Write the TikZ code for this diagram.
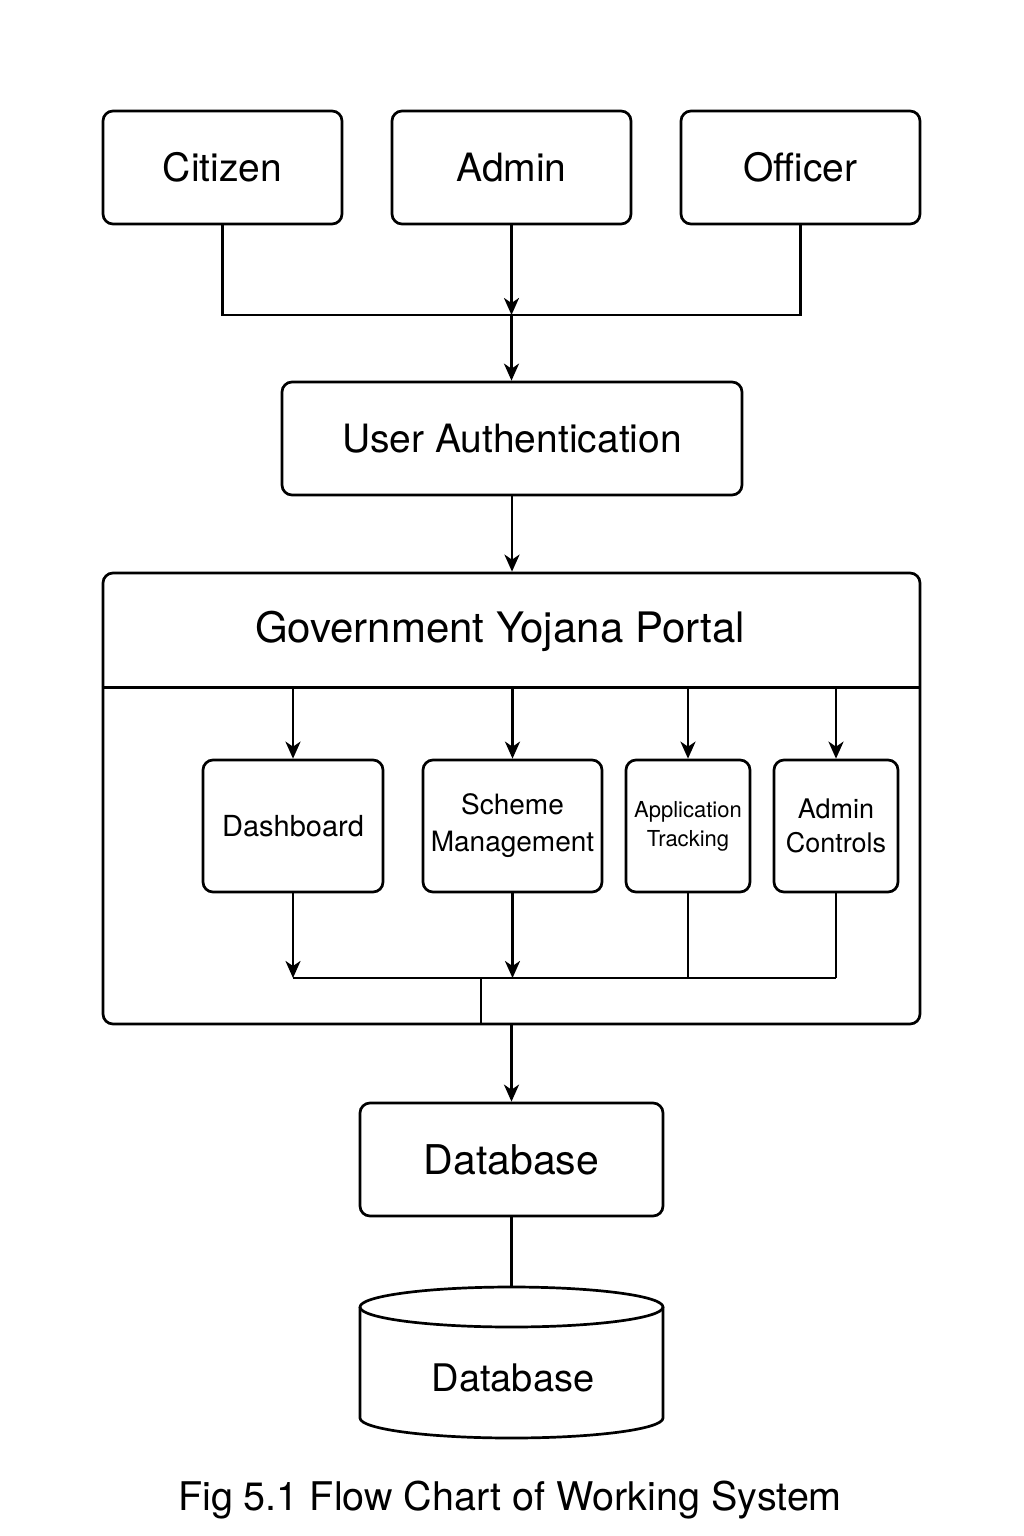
\documentclass[tikz,border=0pt]{standalone}
\usepackage{fontspec}
\setmainfont{TeX Gyre Heros}
\usetikzlibrary{arrows.meta}
\begin{document}
\begin{tikzpicture}[x=1pt,y=-1pt,line width=2.7pt,
  box/.style={draw,rounded corners=10pt,inner sep=0pt,align=center},
  big/.style={font=\fontsize{39}{44}\selectfont},
  arr/.style={-{Stealth[length=17pt,width=15pt,inset=5pt]}}]
\useasboundingbox (0,0) rectangle (1024,1536);
% top row
\node[box,big,minimum width=239pt,minimum height=113pt] (cit) at (222.5,167.5) {Citizen};
\node[box,big,minimum width=239pt,minimum height=113pt] (adm) at (511.5,167.5) {Admin};
\node[box,big,minimum width=239pt,minimum height=113pt] (off) at (800.5,167.5) {Officer};
\coordinate (jt) at (511.5,315);
\node[box,big,minimum width=460pt,minimum height=113pt] (auth) at (512,438.5) {User Authentication};
\draw (cit.south) |- (jt) -| (off.south);
\draw[arr] (adm.south) -- (jt);
\draw[arr] (jt) -- (auth.north -| jt);
% portal
\node[box,minimum width=817pt,minimum height=451pt] (portal) at (511.5,798.5) {};
\node[minimum width=817pt,minimum height=113pt,inner sep=0pt] (head) at (511.5,629.5) {};
\node[font=\fontsize{42}{46}\selectfont] (title) at (500,631) {Government Yojana Portal};
\draw (head.south west) -- (head.south east);
\draw[arr] (auth.south) -- (auth.south |- portal.north);
% modules
\node[box,minimum width=180pt,minimum height=132pt,font=\fontsize{29}{33}\selectfont] (dash) at (293,826) {Dashboard};
\node[box,minimum width=179pt,minimum height=132pt,font=\fontsize{28}{37}\selectfont] (sch) at (512.5,826) {Scheme\\Management};
\node[box,minimum width=124pt,minimum height=132pt,font=\fontsize{22}{29}\selectfont] (app) at (688,826) {Application\\Tracking};
\node[box,minimum width=124pt,minimum height=132pt,font=\fontsize{27}{34}\selectfont] (adc) at (836,826) {Admin\\Controls};
\draw[arr] (dash.north |- head.south) -- (dash.north);
\draw[arr] (sch.north |- head.south) -- (sch.north);
\draw[arr] (app.north |- head.south) -- (app.north);
\draw[arr] (adc.north |- head.south) -- (adc.north);
\coordinate (bus) at (0,978);
\coordinate (mid) at (481,978);
\draw[arr] (dash.south) -- (dash.south |- bus);
\draw[arr] (sch.south) -- (sch.south |- bus);
\draw (app.south) -- (app.south |- bus);
\draw (adc.south) -- (adc.south |- bus);
\draw (dash.south |- bus) -- (adc.south |- bus);
\draw (mid) -- (mid |- portal.south);
% database
\node[box,font=\fontsize{41}{46}\selectfont,minimum width=303pt,minimum height=113pt] (db) at (511.5,1159.5) {Database};
\draw[arr] (db.north |- portal.south) -- (db.north);
\coordinate (cyltop) at (511.5,1287);
\draw (db.south) -- (cyltop);
\draw (511.5,1307) ellipse [x radius=151.5, y radius=20];
\draw (360,1307) -- (360,1418) arc[start angle=180,end angle=0,x radius=151.5,y radius=20] -- (663,1307);
\node[font=\fontsize{38}{44}\selectfont] (cyl) at (513,1378) {Database};
% caption
\node[font=\fontsize{39.5}{44}\selectfont] (cap) at (510,1500) {Fig 5.1 Flow Chart of Working System};
\end{tikzpicture}
\end{document}
